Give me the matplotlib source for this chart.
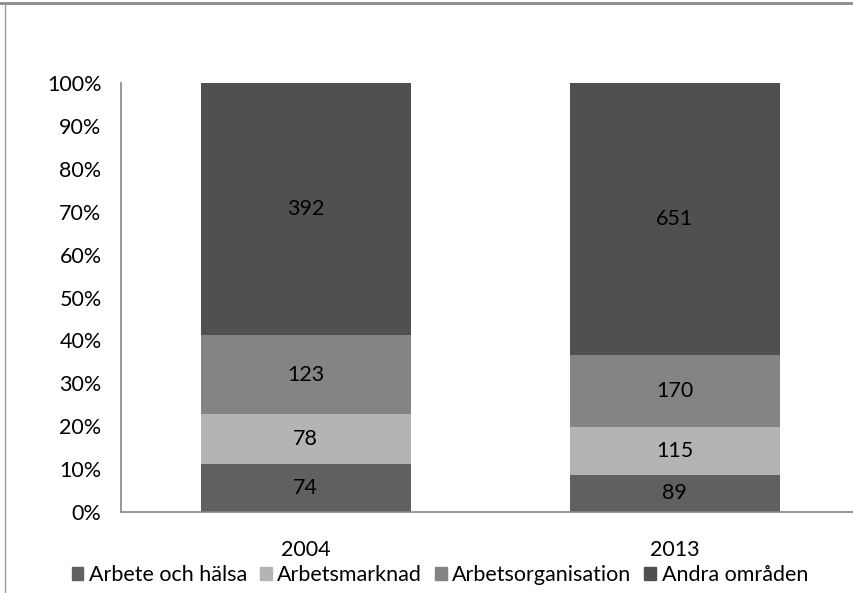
import matplotlib.pyplot as plt
import matplotlib.patches as mpatches
import numpy as np

plt.rcParams['font.family'] = ['Lato', 'DejaVu Sans']

years = ['2004', '2013']
series = ['Arbete och hälsa', 'Arbetsmarknad', 'Arbetsorganisation', 'Andra områden']
arbete_halsa = [74, 89]
arbetsmarknad = [78, 115]
arbetsorg = [123, 170]
andra = [392, 651]
colors = ['#606060', '#b4b4b4', '#848484', '#505050']

values = np.array([arbete_halsa, arbetsmarknad, arbetsorg, andra], dtype=float)
totals = values.sum(axis=0)
shares = values / totals * 100

fs = 15.5

fig = plt.figure(figsize=(8.54, 5.93), dpi=100)
ax = fig.add_axes([121 / 854, 81 / 593, 733 / 854, 429 / 593])

x = np.arange(len(years))
bottom = np.zeros(len(years))
for i in range(len(series)):
    ax.bar(x, shares[i], 0.569, bottom=bottom, color=colors[i], label=series[i])
    for j in range(len(years)):
        ax.text(x[j], bottom[j] + shares[i][j] / 2, str(int(values[i][j])),
                ha='center', va='center', fontsize=fs, color='black')
    bottom += shares[i]

ax.set_xlim(-0.5, 1.486)
ax.set_ylim(0, 100)
ax.set_yticks(range(0, 101, 10))
ax.set_yticklabels([f'{v}%' for v in range(0, 101, 10)], fontsize=fs)
ax.set_xticks(x)
ax.set_xticklabels(years, fontsize=fs)
ax.tick_params(axis='y', length=0, pad=14)
ax.tick_params(axis='x', length=0, pad=20)
for s in ['top', 'right']:
    ax.spines[s].set_visible(False)
for s in ['left', 'bottom']:
    ax.spines[s].set_color('#868686')
    ax.spines[s].set_linewidth(1.2)

handles = [mpatches.Patch(color=c, label=l) for c, l in zip(colors, series)]
fig.legend(handles=handles, loc='center', bbox_to_anchor=(0.515, 0.03), ncol=4,
           frameon=False, fontsize=fs, handlelength=0.55, handleheight=0.55,
           handletextpad=0.25, columnspacing=0.6)

# outer frame lines (top and left)
fig.add_artist(plt.Line2D([0, 1], [0.995, 0.995], color='#8a8a8a', lw=2, transform=fig.transFigure))
fig.add_artist(plt.Line2D([0.006, 0.006], [0, 0.995], color='#9a9a9a', lw=1, transform=fig.transFigure))

fig.savefig('out.png', dpi=100)
